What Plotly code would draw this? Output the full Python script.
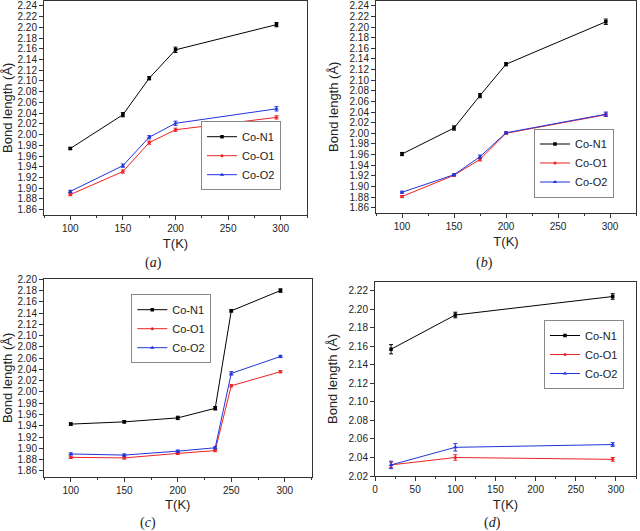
import plotly.graph_objects as go

# ---------------- data ----------------
series_names = ["Co-N1", "Co-O1", "Co-O2"]

T_a = [100, 150, 175, 200, 296]
a_N1 = [1.974, 2.037, 2.105, 2.158, 2.205]
a_N1_err = [0.002, 0.004, 0.003, 0.005, 0.004]
a_O1 = [1.888, 1.931, 1.985, 2.009, 2.032]
a_O1_err = [0.002, 0.003, 0.003, 0.003, 0.003]
a_O2 = [1.894, 1.942, 1.995, 2.021, 2.048]
a_O2_err = [0.002, 0.003, 0.003, 0.004, 0.004]

T_b = [100, 150, 175, 200, 296]
b_N1 = [1.961, 2.010, 2.071, 2.130, 2.210]
b_N1_err = [0.003, 0.004, 0.004, 0.003, 0.005]
b_O1 = [1.881, 1.921, 1.951, 2.000, 2.035]
b_O1_err = [0.002, 0.002, 0.003, 0.002, 0.003]
b_O2 = [1.889, 1.922, 1.956, 2.001, 2.036]
b_O2_err = [0.002, 0.002, 0.003, 0.002, 0.004]

T_c = [100, 150, 200, 235, 250, 296]
c_N1 = [1.943, 1.947, 1.954, 1.971, 2.144, 2.180]
c_N1_err = [0.002, 0.002, 0.003, 0.003, 0.002, 0.003]
c_O1 = [1.884, 1.883, 1.891, 1.896, 2.011, 2.036]
c_O1_err = [0.002, 0.002, 0.002, 0.002, 0.002, 0.002]
c_O2 = [1.890, 1.888, 1.895, 1.901, 2.033, 2.063]
c_O2_err = [0.002, 0.002, 0.002, 0.002, 0.003, 0.002]

T_d = [20, 100, 296]
d_N1 = [2.157, 2.194, 2.214]
d_N1_err = [0.005, 0.003, 0.003]
d_O1 = [2.032, 2.040, 2.038]
d_O1_err = [0.003, 0.003, 0.002]
d_O2 = [2.032, 2.051, 2.054]
d_O2_err = [0.004, 0.004, 0.002]

panel_labels = ["a", "b", "c", "d"]
x_title = "T(K)"
y_title = "Bond length (Å)"

# ---------------- styles ----------------
colors = ["#000000", "#ee2222", "#2233dd"]
symbols = ["square", "circle", "triangle-up"]
msizes = [3.5, 3, 4]
FONT = "Liberation Sans, Arial, sans-serif"

panels = [
    (T_a, [(a_N1, a_N1_err), (a_O1, a_O1_err), (a_O2, a_O2_err)]),
    (T_b, [(b_N1, b_N1_err), (b_O1, b_O1_err), (b_O2, b_O2_err)]),
    (T_c, [(c_N1, c_N1_err), (c_O1, c_O1_err), (c_O2, c_O2_err)]),
    (T_d, [(d_N1, d_N1_err), (d_O1, d_O1_err), (d_O2, d_O2_err)]),
]

W, H = 640, 531
def px_x(p):
    return p / W
def px_y(p):
    return 1 - p / H

x_domains = [(44, 307), (376, 636), (44, 311.5), (375, 636)]
y_domains = [(215, 0.5), (213, 0.5), (476.5, 279.3), (476, 281.7)]
x_ranges = [(75, 325), (75, 325), (75, 325), (0, 325)]
y_ranges = [(1.85, 2.25), (1.85, 2.25), (1.85, 2.20), (2.02, 2.23)]
y_tick0 = [1.86, 1.86, 1.86, 2.02]
legend_center = [(241, 155.7), (574, 163), (171.3, 328.7), (584, 354.5)]
caption_pos = [(153, 263), (484, 263), (148, 523), (492, 523)]

fig = go.Figure()

for i, (T, ser) in enumerate(panels):
    ax = "" if i == 0 else str(i + 1)
    leg = "legend" if i == 0 else f"legend{i + 1}"
    for j, (vals, err) in enumerate(ser):
        fig.add_trace(go.Scatter(
            x=T, y=vals, name=series_names[j], mode="lines+markers",
            xaxis="x" + ax, yaxis="y" + ax, legend=leg,
            line=dict(color=colors[j], width=1),
            marker=dict(symbol=symbols[j], size=msizes[j], color=colors[j]),
            error_y=dict(type="data", array=err, visible=True,
                         color=colors[j], thickness=1, width=2),
        ))

layout = dict(
    width=W, height=H,
    margin=dict(l=0, r=0, t=0, b=0, autoexpand=False),
    paper_bgcolor="white", plot_bgcolor="white",
    font=dict(family=FONT, color="#222"),
    showlegend=True,
)

axis_common = dict(
    showline=True, linecolor="#333", linewidth=1, mirror=True,
    ticks="outside", ticklen=4, tickcolor="#333", tickwidth=1,
    showgrid=False, zeroline=False, automargin=False,
    tickfont=dict(size=10, color="#222", family=FONT),
)

annotations = []
for i in range(4):
    k = "" if i == 0 else str(i + 1)
    xd = x_domains[i]
    yd = y_domains[i]
    layout["xaxis" + k] = dict(
        axis_common,
        domain=[px_x(xd[0]), px_x(xd[1])],
        range=list(x_ranges[i]),
        anchor="y" + k,
        dtick=50, tick0=0,
        minor=dict(ticks="outside", ticklen=2, dtick=25, tick0=0, tickcolor="#333"),
        title=dict(text=x_title, font=dict(size=13, color="#222", family=FONT), standoff=5),
    )
    layout["yaxis" + k] = dict(
        axis_common,
        domain=[px_y(yd[0]), px_y(yd[1])],
        range=list(y_ranges[i]),
        anchor="x" + k,
        dtick=0.02, tick0=y_tick0[i], tickformat=".2f",
        title=dict(text=y_title, font=dict(size=13, color="#222", family=FONT), standoff=7),
    )
    leg = "legend" if i == 0 else f"legend{i + 1}"
    lc = legend_center[i]
    layout[leg] = dict(
        x=px_x(lc[0]), y=px_y(lc[1]), xanchor="center", yanchor="middle",
        bgcolor="white", bordercolor="#888", borderwidth=1,
        font=dict(size=11, color="#222", family=FONT),
        tracegroupgap=0, itemwidth=30,
    )
    cp = caption_pos[i]
    annotations.append(dict(
        x=px_x(cp[0]), y=px_y(cp[1]), xref="paper", yref="paper",
        text=f"(<i>{panel_labels[i]}</i>)", showarrow=False,
        xanchor="center", yanchor="middle",
        font=dict(size=14, family="Liberation Serif, Times New Roman, serif", color="#222"),
    ))

layout["annotations"] = annotations
fig.update_layout(**layout)
fig.write_html("out.html", config={"displayModeBar": False},
               post_script="document.body.style.margin='0';")
